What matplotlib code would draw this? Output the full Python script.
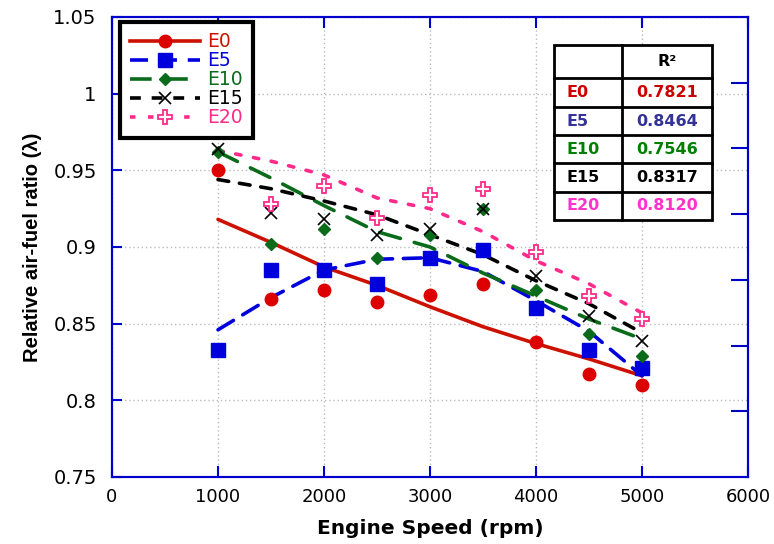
import matplotlib
matplotlib.use("Agg")
import matplotlib.pyplot as plt
from matplotlib.lines import Line2D
from matplotlib.patches import Rectangle

plt.rcParams['font.family'] = ['DejaVu Sans']

# ---------------- data ----------------
speeds = [1000, 1500, 2000, 2500, 3000, 3500, 4000, 4500, 5000]

e0_vals  = [0.950, 0.866, 0.872, 0.864, 0.869, 0.876, 0.838, 0.817, 0.810]
e5_vals  = [0.833, 0.885, 0.885, 0.876, 0.893, 0.898, 0.860, 0.833, 0.821]
e10_vals = [0.962, 0.902, 0.912, 0.893, 0.908, 0.925, 0.872, 0.843, 0.829]
e15_vals = [0.964, 0.922, 0.918, 0.908, 0.912, 0.925, 0.881, 0.855, 0.839]
e20_vals = [0.980, 0.928, 0.940, 0.919, 0.934, 0.938, 0.897, 0.868, 0.853]

# trend lines
e0_trend  = [0.918, 0.903, 0.887, 0.875, 0.861, 0.848, 0.837, 0.827, 0.816]
e5_trend  = [0.846, 0.867, 0.885, 0.892, 0.893, 0.884, 0.865, 0.845, 0.816]
e10_trend = [0.962, 0.945, 0.927, 0.910, 0.900, 0.883, 0.868, 0.853, 0.840]
e15_trend = [0.944, 0.938, 0.930, 0.921, 0.908, 0.895, 0.878, 0.863, 0.844]
e20_trend = [0.963, 0.956, 0.947, 0.932, 0.925, 0.910, 0.891, 0.876, 0.857]

series_names = ['E0', 'E5', 'E10', 'E15', 'E20']
r2_values = ['0.7821', '0.8464', '0.7546', '0.8317', '0.8120']
table_colors = ['#cc0000', '#333399', '#008000', '#000000', '#ff33cc']

x_ticks = [0, 1000, 2000, 3000, 4000, 5000, 6000]
y_ticks = [0.75, 0.8, 0.85, 0.9, 0.95, 1.0, 1.05]
y_tick_labels = ['0.75', '0.8', '0.85', '0.9', '0.95', '1', '1.05']

# ---------------- styles ----------------
styles = [
    dict(lc='#cc1100', marker='o', ms=9, ls='-', mfc='#dd0000', mec='#dd0000', mew=1),
    dict(lc='#0000dd', marker='s', ms=9.5, ls=(0, (5, 3)), mfc='#0000dd', mec='#0000dd', mew=1),
    dict(lc='#0a6b1a', marker='D', ms=6, ls=(0, (6, 4)), mfc='#0a6b1a', mec='#0a6b1a', mew=1),
    dict(lc='#000000', marker='x', ms=9, ls=(0, (3, 3)), mfc='none', mec='#000000', mew=1.2),
    dict(lc='#ff2a8a', marker='P', ms=10, ls=(0, (1.5, 3.5)), mfc='white', mec='#ff2a8a', mew=1.3),
]
vals = [e0_vals, e5_vals, e10_vals, e15_vals, e20_vals]
trends = [e0_trend, e5_trend, e10_trend, e15_trend, e20_trend]

fig = plt.figure(figsize=(7.74, 5.44), dpi=100)
ax = fig.add_axes([112/774, 1-477/544, 636/774, 460/544])

ax.set_xlim(0, 6000)
ax.set_ylim(0.75, 1.05)
ax.set_xticks(x_ticks)
ax.set_yticks(y_ticks)
ax.set_yticklabels(y_tick_labels)
ax.grid(True, linestyle=(0, (1, 2)), color='#bbbbbb', linewidth=1)
ax.set_axisbelow(True)

spine_col = '#0000cc'
for s in ax.spines.values():
    s.set_color(spine_col)
    s.set_linewidth(1.5)
ax.tick_params(axis='both', direction='in', color=spine_col, width=1.5, labelsize=13)
ax.tick_params(axis='y', length=7, pad=11, labelsize=14)
ax.tick_params(axis='x', length=8, pad=8, top=True)

# trend lines
for tr, st in zip(trends, styles):
    ax.plot(speeds, tr, color=st['lc'], linestyle=st['ls'], linewidth=2.6, zorder=3,
            dash_capstyle='round', solid_capstyle='round')
# markers
for v, st in zip(vals, styles):
    ax.plot(speeds, v, linestyle='none', marker=st['marker'], markersize=st['ms'],
            markerfacecolor=st['mfc'], markeredgecolor=st['mec'], markeredgewidth=st['mew'],
            zorder=4)

ax.set_xlabel('Engine Speed (rpm)', fontsize=14.5, fontweight='bold', labelpad=9)
ax.set_ylabel('Relative air-fuel ratio (λ)', fontsize=14.5, fontweight='bold', labelpad=8,
              family=['Liberation Sans', 'DejaVu Sans'])

# secondary right axis ticks
ax2 = ax.twinx()
ax2.set_ylim(0, 7)
ax2.set_yticks([1, 2, 3, 4, 5, 6])
ax2.set_yticklabels([])
ax2.tick_params(axis='y', direction='in', length=12, width=1.5, color=spine_col)
for s in ax2.spines.values():
    s.set_color(spine_col)
    s.set_linewidth(1.5)

# legend
handles = []
for name, st in zip(series_names, styles):
    handles.append(Line2D([0], [0], color=st['lc'], linestyle=st['ls'], linewidth=2.6,
                          marker=st['marker'], markersize=st['ms'],
                          markerfacecolor=st['mfc'], markeredgecolor=st['mec'],
                          markeredgewidth=st['mew']))
leg = ax2.legend(handles, series_names, loc='upper left',
                 bbox_to_anchor=(120/774, 1-22/544), bbox_transform=fig.transFigure,
                 fontsize=13.5, frameon=True, fancybox=False, shadow=False, framealpha=1,
                 handlelength=3.7, handletextpad=0.4, labelspacing=0.0,
                 borderpad=0.55, borderaxespad=0)
leg.get_frame().set_edgecolor('black')
leg.get_frame().set_linewidth(3)
for txt, st in zip(leg.get_texts(), styles):
    txt.set_color(st['lc'])

# R² table (drawn in figure pixel coordinates)
tx0, tx1, tx2 = 554, 622, 712
row_edges = [45, 78, 107, 135, 163, 192, 220]

def fx(px):
    return px / 774

def fy(py):
    return 1 - py / 544

bg = Rectangle((fx(tx0), fy(row_edges[-1])), fx(tx2) - fx(tx0), fy(row_edges[0]) - fy(row_edges[-1]),
               transform=fig.transFigure, facecolor='white', edgecolor='black', linewidth=2, zorder=10)
fig.add_artist(bg)
for r in row_edges[1:-1]:
    fig.add_artist(Line2D([fx(tx0), fx(tx2)], [fy(r), fy(r)], transform=fig.transFigure,
                          color='black', linewidth=2, zorder=11))
fig.add_artist(Line2D([fx(tx1), fx(tx1)], [fy(row_edges[0]), fy(row_edges[-1])],
                      transform=fig.transFigure, color='black', linewidth=2, zorder=11))
fig.text(fx((tx1 + tx2) / 2), fy((row_edges[0] + row_edges[1]) / 2), 'R²',
         ha='center', va='center', fontsize=11.5, fontweight='bold', color='black', zorder=12)
for i, (name, r2, c) in enumerate(zip(series_names, r2_values, table_colors)):
    yc = fy((row_edges[i + 1] + row_edges[i + 2]) / 2)
    fig.text(fx(tx0 + 12), yc, name, ha='left', va='center', fontsize=11.5,
             fontweight='bold', color=c, zorder=12)
    fig.text(fx((tx1 + tx2) / 2), yc, r2, ha='center', va='center', fontsize=11.5,
             fontweight='bold', color=c, zorder=12)

fig.savefig('out.png', dpi=100)
